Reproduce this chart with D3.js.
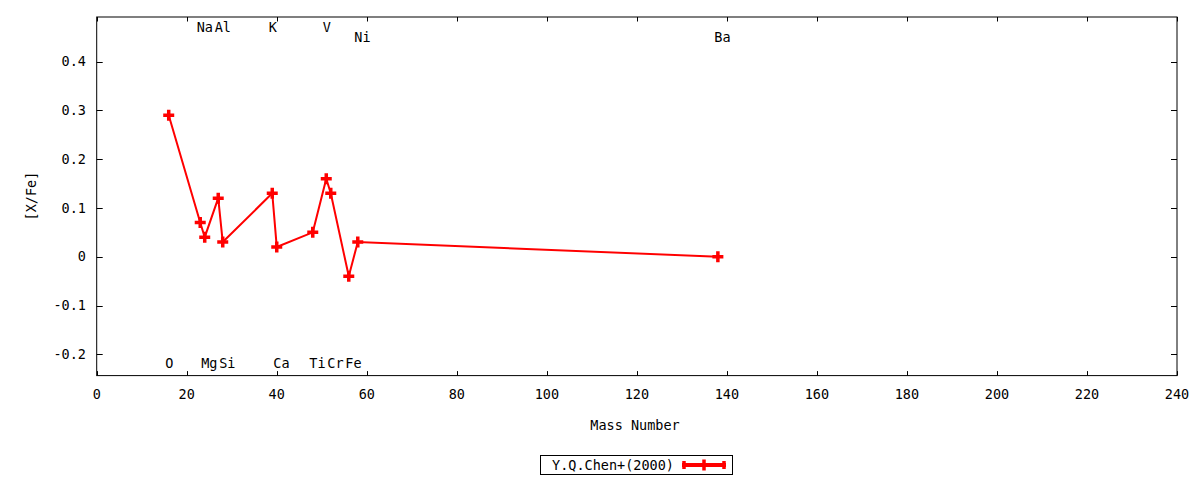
<!DOCTYPE html>
<html>
<head>
<meta charset="utf-8">
<script src="https://cdn.jsdelivr.net/npm/d3@7"></script>
<style>
  html, body { margin: 0; padding: 0; background: #fff; }
  text { font-family: "DejaVu Sans Mono", monospace; font-size: 13.5px; fill: #000; }
</style>
</head>
<body>
<svg id="chart" width="1200" height="480"></svg>
<script>
// ---- data ----
const elements = ["O", "Na", "Mg", "Al", "Si", "K", "Ca", "Ti", "V", "Cr", "Fe", "Ni", "Ba"];
const massNumber = [16, 23, 24, 27, 28, 39, 40, 48, 51, 52, 56, 58, 138];
const xFe = [0.29, 0.07, 0.04, 0.12, 0.03, 0.13, 0.02, 0.05, 0.16, 0.13, -0.04, 0.03, 0.00];
const labelRow = ["bottom", "top", "bottom", "top", "bottom", "top", "bottom", "bottom", "top", "bottom", "bottom", "mid", "mid"];
const labelRowY = { top: 0.4707, mid: 0.45, bottom: -0.218 };
const xTicks = [0, 20, 40, 60, 80, 100, 120, 140, 160, 180, 200, 220, 240];
const yTicks = [-0.2, -0.1, 0, 0.1, 0.2, 0.3, 0.4];
const xTitle = "Mass Number";
const yTitle = "[X/Fe]";
const seriesName = "Y.Q.Chen+(2000)";

// ---- layout ----
const L = 96.7, R = 1177, T = 17, B = 375.6;
const svg = d3.select("#chart");
const x = d3.scaleLinear().domain([0, 240]).range([L, R]);
const y = d3.scaleLinear().domain([-0.2436, 0.4912]).range([B, T]);
const red = "#ff0000";

const fmt = v => (Math.abs(v) < 1e-9 ? "0" : d3.format("")(+v.toFixed(1)).replace("\u2212", "-"));

// frame
svg.append("rect").attr("x", L).attr("y", T).attr("width", R - L).attr("height", B - T)
  .attr("fill", "none").attr("stroke", "#000").attr("stroke-width", 1);

// axes (ticks inward, mirrored)
const tx = 4.5, ty = 6;
const ax = svg.append("g");
xTicks.forEach(v => {
  const px = Math.round(x(v)) + 0.5;
  ax.append("line").attr("x1", px).attr("x2", px).attr("y1", B).attr("y2", B - tx).attr("stroke", "#000");
  ax.append("line").attr("x1", px).attr("x2", px).attr("y1", T).attr("y2", T + tx).attr("stroke", "#000");
  ax.append("text").attr("x", x(v)).attr("y", 394).attr("dy", "0.35em").attr("text-anchor", "middle").text(fmt(v));
});
yTicks.forEach(v => {
  const py = Math.round(y(v)) + 0.5;
  ax.append("line").attr("x1", L).attr("x2", L + ty).attr("y1", py).attr("y2", py).attr("stroke", "#000");
  ax.append("line").attr("x1", R).attr("x2", R - ty).attr("y1", py).attr("y2", py).attr("stroke", "#000");
  ax.append("text").attr("x", 86).attr("y", y(v)).attr("dy", "0.35em").attr("text-anchor", "end").text(fmt(v));
});

// titles
svg.append("text").attr("x", 635).attr("y", 425).attr("dy", "0.35em").attr("text-anchor", "middle").text(xTitle);
svg.append("text").attr("transform", "translate(31,196) rotate(-90)").attr("dy", "0.35em")
  .attr("text-anchor", "middle").text(yTitle);

// data
const data = elements.map((e, i) => ({ e, m: massNumber[i], v: xFe[i], row: labelRow[i] }));

svg.append("path").datum(data)
  .attr("fill", "none").attr("stroke", red).attr("stroke-width", 2)
  .attr("d", d3.line().x(d => x(d.m)).y(d => y(d.v)));

const plus = "M-5.5,0H5.5M0,-5.5V5.5";
svg.append("g").selectAll("path").data(data).join("path")
  .attr("transform", d => `translate(${x(d.m)},${y(d.v)})`)
  .attr("d", plus).attr("fill", "none").attr("stroke", red).attr("stroke-width", 3.5);

// element labels
svg.append("g").selectAll("text").data(data).join("text")
  .attr("x", d => x(d.m) - 3.5)
  .attr("y", d => y(labelRowY[d.row]))
  .attr("dy", "0.35em")
  .attr("text-anchor", "start")
  .text(d => d.e);

// legend
const lg = svg.append("g");
lg.append("rect").attr("x", 540.5).attr("y", 455.5).attr("width", 192).attr("height", 19)
  .attr("fill", "#fff").attr("stroke", "#000");
lg.append("text").attr("x", 674).attr("y", 465).attr("dy", "0.35em").attr("text-anchor", "end").text(seriesName);
lg.append("line").attr("x1", 682).attr("x2", 726).attr("y1", 465).attr("y2", 465)
  .attr("stroke", red).attr("stroke-width", 4);
[684, 724].forEach(cx => lg.append("line").attr("x1", cx).attr("x2", cx).attr("y1", 461).attr("y2", 469)
  .attr("stroke", red).attr("stroke-width", 3.5));
lg.append("path").attr("transform", "translate(704,465)").attr("d", plus)
  .attr("fill", "none").attr("stroke", red).attr("stroke-width", 3.5);
</script>
</body>
</html>
